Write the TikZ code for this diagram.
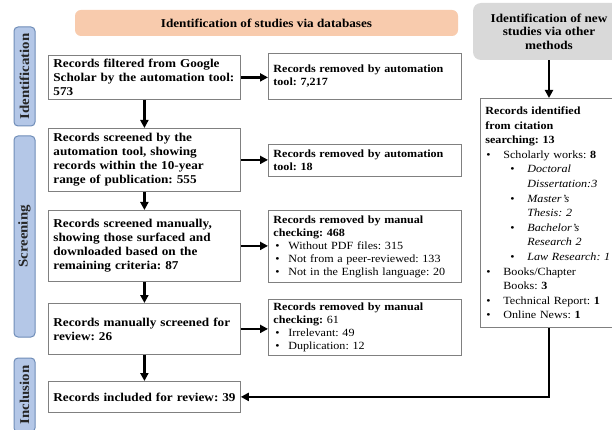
\documentclass[tikz,border=0pt]{standalone}
\usepackage{fontspec}
\setmainfont{Liberation Serif}[FakeStretch=1.1]
\usetikzlibrary{arrows.meta}
\definecolor{phasefill}{HTML}{B4C7E7}
\definecolor{phasedraw}{HTML}{6F8DB8}
\definecolor{orangefill}{HTML}{F8CBAD}
\definecolor{grayfill}{HTML}{D9D9D9}
\definecolor{boxdraw}{HTML}{808080}
\newcommand{\bul}[1]{\makebox[#1][l]{\textbullet}}
\frenchspacing
\begin{document}
\frenchspacing
\begin{tikzpicture}[x=1pt,y=-1pt,
  phasebar/.style={draw=phasedraw, fill=phasefill, rounded corners=4pt, line width=1pt,
    inner sep=0pt, minimum height=21pt, rotate=90,
    font=\fontsize{13.5}{14}\selectfont\bfseries, text=black!85},
  box/.style={draw=boxdraw, line width=0.8pt, fill=white, inner xsep=5pt, inner ysep=0pt,
    align=left, anchor=north west, font=\fontsize{12}{14}\selectfont\bfseries},
  rbox/.style={draw=boxdraw, line width=0.8pt, fill=white, inner xsep=5pt, inner ysep=0pt,
    align=left, anchor=north west, font=\fontsize{11}{13}\selectfont},
  arr/.style={line width=2.4pt, -{Triangle[length=8pt,width=8pt]}},
]
\clip (0,0) rectangle (612,430);
\fill[white] (0,0) rectangle (612,430);

% phase bars
\node[phasebar, minimum width=99pt] (ph1) at (24.5,76.5) {Identification};
\node[phasebar, minimum width=201pt] (ph2) at (24.5,236.5) {Screening};
\node[phasebar, minimum width=74pt] (ph3) at (24.5,395) {Inclusion};

% headers
\node[fill=orangefill, rounded corners=6pt, minimum width=383pt, minimum height=26pt,
  inner sep=0pt, font=\fontsize{12}{14}\selectfont\bfseries] (hdb) at (266.5,23)
  {Identification of studies via databases};
\node[fill=grayfill, rounded corners=8pt, minimum width=152pt, minimum height=57pt,
  inner sep=0pt, align=center, font=\fontsize{12}{13.5}\selectfont\bfseries] (hoth) at (549,31.5)
  {Identification of new\\studies via other\\methods};

% left column
\node[box, minimum width=192pt, minimum height=44pt, text width=182pt] (b1) at (48,55)
  {Records filtered from Google\\\mbox{Scholar by the automation tool:}\\573};
\node[box, minimum width=192pt, minimum height=63pt, text width=182pt] (b3) at (48,128)
  {Records screened by the\\automation tool, showing\\records within the 10-year\\range of publication: 555};
\node[box, minimum width=192pt, minimum height=71pt, text width=182pt] (b5) at (48,210)
  {Records screened manually,\\showing those surfaced and\\downloaded based on the\\remaining criteria: 87};
\node[box, minimum width=192pt, minimum height=51pt, text width=182pt] (b7) at (48,303)
  {\mbox{Records manually screened for}\\review: 26};
\node[box, minimum width=192pt, minimum height=31pt, text width=182pt] (b9) at (48,381)
  {\mbox{Records included for review: 39}};

% removed boxes
\node[rbox, minimum width=193pt, minimum height=46pt, text width=183pt] (b2) at (268,53)
  {\textbf{Records removed by automation}\\\textbf{tool: 7,217}};
\node[rbox, minimum width=193pt, minimum height=32pt, text width=183pt] (b4) at (268,144)
  {\textbf{Records removed by automation}\\\textbf{tool: 18}};
\node[rbox, minimum width=193pt, minimum height=72pt, text width=183pt] (b6) at (268,210)
  {\textbf{Records removed by manual}\\\textbf{checking: 468}\\
   \hspace*{2pt}\bul{13pt}Without PDF files: 315\\
   \hspace*{2pt}\bul{13pt}Not from a peer-reviewed: 133\\
   \hspace*{2pt}\bul{13pt}Not in the English language: 20};
\node[rbox, minimum width=193pt, minimum height=56pt, text width=183pt] (b8) at (268,299)
  {\textbf{Records removed by manual}\\\textbf{checking:} 61\\
   \hspace*{2pt}\bul{13pt}Irrelevant: 49\\
   \hspace*{2pt}\bul{13pt}Duplication: 12};

% right column
\node[rbox, minimum width=150pt, minimum height=229pt, text width=140pt,
  font=\fontsize{11}{14.6}\selectfont] (r) at (480,98)
  {\textbf{Records identified}\\\textbf{from citation}\\\textbf{searching: 13}\\
   \hspace*{1pt}\bul{17pt}Scholarly works: \textbf{8}\\
   \hspace*{25pt}\bul{17pt}\textit{Doctoral}\\
   \hspace*{42pt}\textit{Dissertation:3}\\
   \hspace*{25pt}\bul{17pt}\textit{Master’s}\\
   \hspace*{42pt}\textit{Thesis: 2}\\
   \hspace*{25pt}\bul{17pt}\textit{Bachelor’s}\\
   \hspace*{42pt}\textit{Research 2}\\
   \hspace*{25pt}\bul{17pt}\textit{Law Research: 1}\\
   \hspace*{1pt}\bul{17pt}Books/Chapter\\
   \hspace*{18pt}Books: \textbf{3}\\
   \hspace*{1pt}\bul{17pt}Technical Report: \textbf{1}\\
   \hspace*{1pt}\bul{17pt}Online News: \textbf{1}};

% connectors
\draw[arr] (b1.south) -- (b3.north);
\draw[arr] (b3.south) -- (b5.north);
\draw[arr] (b5.south) -- (b7.north);
\draw[arr] (b7.south) -- (b9.north);
\draw[arr] (b1.east) -- (b1.east -| b2.west);
\draw[arr] (b3.east) -- (b3.east -| b4.west);
\draw[arr] (b5.east) -- (b5.east -| b6.west);
\draw[arr] (b7.east) -- (b7.east -| b8.west);
\draw[arr] (hoth.south) -- (hoth.south |- r.north);
\draw[arr] (hoth.south |- r.south) -- (hoth.south |- b9.east) -- (b9.east);
\end{tikzpicture}
\end{document}
